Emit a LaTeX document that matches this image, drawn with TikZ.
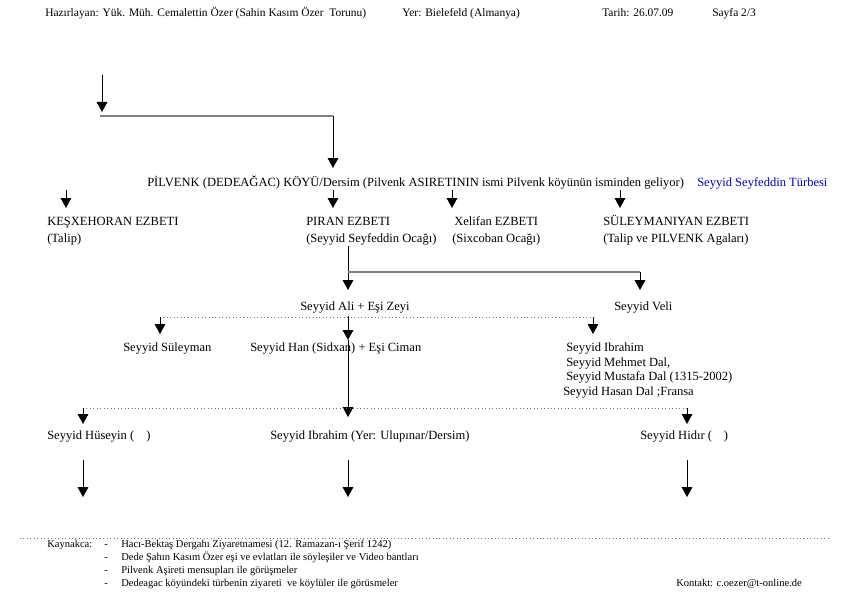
\documentclass[tikz,border=0pt]{standalone}
\usepackage{fontspec}
\setmainfont{Liberation Serif}
\usetikzlibrary{arrows.meta}
\definecolor{turbeblue}{RGB}{0,0,200}
\begin{document}
\begin{tikzpicture}[x=0.75pt, y=-0.75pt,
    hdr/.style={anchor=base west, inner sep=0pt, font=\fontsize{8.6}{10}\selectfont},
    txt/.style={anchor=base west, inner sep=0pt, font=\fontsize{9.4}{11}\selectfont},
    small/.style={anchor=base west, inner sep=0pt, font=\fontsize{9.4}{11}\selectfont},
    ref/.style={anchor=base west, inner sep=0pt, font=\fontsize{7.9}{9}\selectfont},
    arr/.style={-{Triangle[width=8pt,length=7.5pt]}, line width=0.75pt},
    grayline/.style={draw=black!50, line width=1.5pt},
    dotline/.style={draw=black!55, dotted, line width=0.6pt}]
    \useasboundingbox (0,0) rectangle (843,592);
    
    % header
    \node[hdr] (prep) at (45,17) {Hazırlayan: Yük. Müh. Cemalettin Özer (Sahin Kasım Özer~ Torunu)};
    \node[hdr] (yer) at (402,17) {Yer: Bielefeld (Almanya)};
    \node[hdr] (tarih) at (602,17) {Tarih: 26.07.09};
    \node[hdr] (sayfa) at (712,17) {Sayfa 2/3};
    
    % top arrows
    \coordinate (top) at (102,75); \coordinate (topend) at (102,112);
    \draw[arr] (top) -- (topend);
    \coordinate (bendl) at (100,116); \coordinate (bendr) at (333,116);
    \draw[grayline] (bendl) -- (bendr);
    \coordinate (koyend) at (333,168);
    \draw[arr] (bendr) -- (koyend);
    
    \node[txt] (koy) at (147,186) {PİLVENK (DEDEAĞAC) KÖYÜ/Dersim (Pilvenk ASIRETININ ismi Pilvenk köyünün isminden geliyor)};
    \node[txt, text=turbeblue] (turbe) at (697,186) {Seyyid Seyfeddin Türbesi};
    
    % ezbetler
    \foreach \ax/\nm in {66/kes,333/piran,452/xel,620/sul} {
        \coordinate (\nm-s) at (\ax,190); \coordinate (\nm-e) at (\ax,208);
        \draw[arr] (\nm-s) -- (\nm-e);
    } %end foreach
    \node[txt] (kes) at (47,225) {KEŞXEHORAN EZBETI};
    \node[txt] (kesb) at (47,242) {(Talip)};
    \node[txt] (piran) at (306,225) {PIRAN EZBETI};
    \node[txt] (piranb) at (306,242) {(Seyyid Seyfeddin Ocağı)};
    \node[txt] (xel) at (454,225) {Xelifan EZBETI};
    \node[txt] (xelb) at (452,242) {(Sixcoban Ocağı)};
    \node[txt] (sul) at (603,225) {SÜLEYMANIYAN EZBETI};
    \node[txt] (sulb) at (603,242) {(Talip ve PILVENK Agaları)};
    
    % piran -> ali, veli
    \coordinate (pa-s) at (348,246); \coordinate (pa-e) at (348,290);
    \draw[arr] (pa-s) -- (pa-e);
    \coordinate (pv-l) at (348,272); \coordinate (pv-r) at (640,272); \coordinate (pv-e) at (640,290);
    \draw[grayline] (pv-l) -- (pv-r);
    \draw[arr] (pv-r) -- (pv-e);
    \node[small] (ali) at (300,310) {Seyyid Ali + Eşi Zeyi};
    \node[small] (veli) at (614,310) {Seyyid Veli};
    
    % ali -> cocuklar
    \coordinate (d1l) at (160,317); \coordinate (d1r) at (593,317);
    \draw[dotline] (d1l) -- (d1r);
    \foreach \ax/\nm in {160/sl,593/ib} {
        \coordinate (\nm-s) at (\ax,317); \coordinate (\nm-e) at (\ax,334);
        \draw[arr] (\nm-s) -- (\nm-e);
    } %end foreach
    \coordinate (ah-s) at (348,316); \coordinate (ah-e) at (348,340);
    \draw[arr] (ah-s) -- (ah-e);
    \coordinate (hi-e) at (348,417);
    \draw[arr] (ah-e) -- (hi-e);
    \node[small] (slm) at (123,351) {Seyyid Süleyman};
    \node[small] (han) at (250,351) {Seyyid Han (Sidxan) + Eşi Ciman};
    \node[small] (ibr) at (566,351) {Seyyid Ibrahim};
    \node[small] (meh) at (566,366) {Seyyid Mehmet Dal,};
    \node[small] (mus) at (566,380) {Seyyid Mustafa Dal (1315-2002)};
    \node[small] (has) at (563,395) {Seyyid Hasan Dal ;Fransa};
    
    % han -> cocuklar
    \coordinate (d2l) at (83,408); \coordinate (d2r) at (687,408);
    \draw[dotline] (d2l) -- (d2r);
    \foreach \ax/\nm in {83/hu,687/hd} {
        \coordinate (\nm-s) at (\ax,408); \coordinate (\nm-e) at (\ax,424);
        \draw[arr] (\nm-s) -- (\nm-e);
    } %end foreach
    \node[small] (hus) at (47,439) {Seyyid Hüseyin (\hspace{9pt})};
    \node[small] (ibr2) at (270,439) {Seyyid Ibrahim (Yer: Ulupınar/Dersim)};
    \node[small] (hid) at (640,439) {Seyyid Hidır (\hspace{9pt})};
    
    \foreach \ax/\nm in {83/bu,348/bi,687/bh} {
        \coordinate (\nm-s) at (\ax,460); \coordinate (\nm-e) at (\ax,497);
        \draw[arr] (\nm-s) -- (\nm-e);
    } %end foreach
    
    % kaynakca
    \coordinate (sepl) at (20,538); \coordinate (sepr) at (828,538);
    \draw[dotline] (sepl) -- (sepr);
    \node[ref] (kay) at (47,547) {Kaynakca:};
    \foreach \yy/\nm/\txt in {547/k1/{Hacı-Bektaş Dergahı Ziyaretnamesi (12. Ramazan-ı Şerif 1242)},
        560/k2/{Dede Şahın Kasım Özer eşi ve evlatları ile söyleşiler ve Video bantları},
        573/k3/{Pilvenk Aşireti mensupları ile görüşmeler},
        586/k4/{Dedeagac köyündeki türbenin ziyareti~ ve köylüler ile görüsmeler}} {
        \node[ref] (\nm-d) at (104,\yy) {-};
        \node[ref] (\nm) at (121,\yy) {\txt};
    } %end foreach
    \node[ref] (kontakt) at (676,586) {Kontakt: c.oezer@t-online.de};
    
\end{tikzpicture}
\end{document}
